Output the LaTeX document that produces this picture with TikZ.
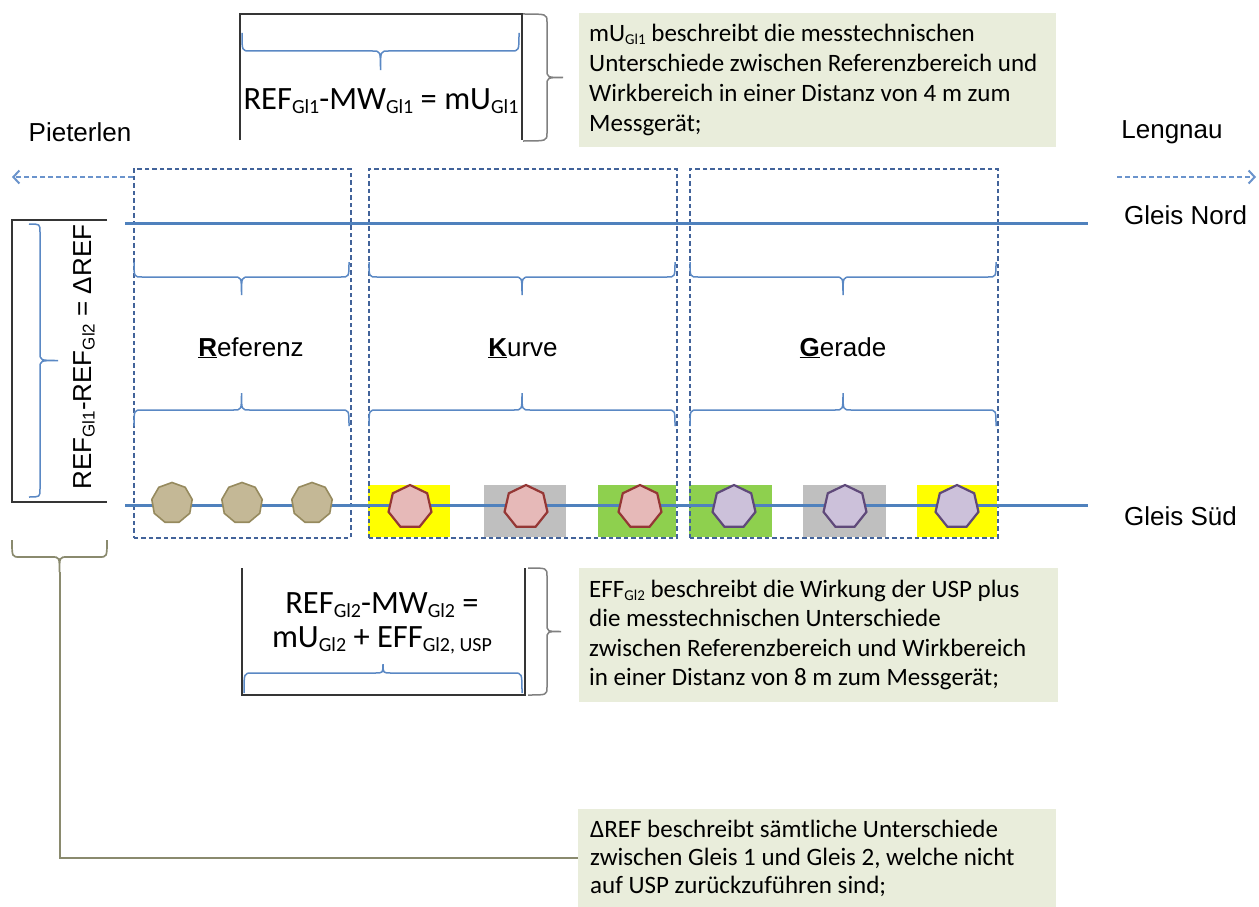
\documentclass[tikz,border=0pt]{standalone}
\usepackage{fontspec}
\setmainfont{Carlito}
\newfontfamily\arialf{Liberation Sans}
\usetikzlibrary{arrows.meta,shapes.geometric}
\definecolor{trackblue}{HTML}{4F81BD}
\definecolor{braceblue}{HTML}{5A88C4}
\definecolor{zoneblue}{HTML}{42639A}
\definecolor{arrowblue}{HTML}{6A93CC}
\definecolor{boxgreen}{HTML}{E9EDDB}
\definecolor{olivegray}{HTML}{8A8A6E}
\definecolor{darkline}{HTML}{353535}
\definecolor{tanfill}{HTML}{C4B896}
\definecolor{tandraw}{HTML}{968A5E}
\definecolor{pinkfill}{HTML}{E6B9B8}
\definecolor{pinkdraw}{HTML}{953735}
\definecolor{lilafill}{HTML}{CCC1DA}
\definecolor{liladraw}{HTML}{5F497A}
\definecolor{sqyellow}{HTML}{FFFF00}
\definecolor{sqgray}{HTML}{BFBFBF}
\definecolor{sqgreen}{HTML}{8ED04E}
% horizontal brace: x1, x2, yend, ybar, ytip, style
\newcommand\HBr[6]{\draw[#6] (#1,#3) .. controls (#1,#4) .. ({#1+8},#4) -- ({(#1+#2)/2-8},#4) .. controls ({(#1+#2)/2},#4) .. ({(#1+#2)/2},#5) .. controls ({(#1+#2)/2},#4) .. ({(#1+#2)/2+8},#4) -- ({#2-8},#4) .. controls (#2,#4) .. (#2,#3);}
% vertical brace: y1, y2, xend, xbar, xtip, style
\newcommand\VBr[6]{\draw[#6] (#3,#1) .. controls (#4,#1) .. (#4,{#1+8}) -- (#4,{(#1+#2)/2-8}) .. controls (#4,{(#1+#2)/2}) .. (#5,{(#1+#2)/2}) .. controls (#4,{(#1+#2)/2}) .. (#4,{(#1+#2)/2+8}) -- (#4,{#2-8}) .. controls (#4,#2) .. (#3,#2);}
\newcommand\sbF[1]{{\fontsize{20}{20}\selectfont\raisebox{-0.2em}{#1}}}
\newcommand\sbT[1]{{\fontsize{15}{15}\selectfont\raisebox{-0.2em}{#1}}}
\newcommand\sbA[1]{{\fontsize{17}{17}\selectfont\raisebox{-0.2em}{#1}}}
\begin{document}
\begin{tikzpicture}[x=1pt,y=-1pt,
  bracebl/.style={draw=braceblue,line width=1.5},
  bracegr/.style={draw=gray,line width=1.5},
  braceol/.style={draw=olivegray,line width=1.7},
  frameline/.style={draw=darkline,line width=1.8},
  zone/.style={draw=zoneblue,dash pattern=on 4.5pt off 3pt,line width=1.5,inner sep=0,anchor=north west},
  darr/.style={draw=arrowblue,dash pattern=on 5pt off 3pt,line width=2,-{Straight Barb[length=6pt,width=13pt,line width=2pt]}},
  track/.style={draw=trackblue,line width=3},
  gbox/.style={fill=boxgreen,inner sep=0,anchor=north west},
  gtext/.style={align=left,inner sep=0,anchor=west},
  ftext/.style={inner sep=0,font=\fontsize{32.5}{34}\selectfont},
  atext/.style={inner sep=0,font=\arialf\fontsize{26}{30}\selectfont},
  tanpoly/.style={regular polygon,regular polygon sides=9,minimum size=41,inner sep=0,fill=tanfill,draw=tandraw,line width=1.6},
  pinkpoly/.style={regular polygon,regular polygon sides=7,minimum size=44,inner sep=0,fill=pinkfill,draw=pinkdraw,line width=2.2},
  lilapoly/.style={regular polygon,regular polygon sides=7,minimum size=44,inner sep=0,fill=lilafill,draw=liladraw,line width=2.2},
]
\fill[white] (0,0) rectangle (1259,907);
\useasboundingbox (0,0) rectangle (1259,907);

% ---- top formula box
\draw[frameline] (240,140) -- (240,14) -- (522,14) -- (522,140);
\HBr{242}{519}{33}{51}{70}{bracebl}
\node[ftext,anchor=base] (f1) at (381,110) {REF\sbF{Gl1}-MW\sbF{Gl1} = mU\sbF{Gl1}};
\VBr{14}{141}{523}{547}{563}{bracegr}
\node[gbox,minimum width=477,minimum height=134] (mubox) at (579,13) {};
\node[gtext,font=\fontsize{25}{30}\selectfont] (mutext) at ([xshift=10]mubox.west) {mU\sbT{Gl1} beschreibt die messtechnischen\\Unterschiede zwischen Referenzbereich und\\Wirkbereich in einer Distanz von 4 m zum\\Messgerät;};

% ---- place names
\node[atext] (pieterlen) at (80,132) {Pieterlen};
\node[atext] (lengnau) at (1172,132) {Lengnau};
\node[atext,anchor=west] (nord) at (1124,215) {Gleis Nord};
\node[atext,anchor=west] (sued) at (1124,516) {Gleis Süd};

% ---- coloured squares
\fill[sqyellow] (368,485) rectangle (450,537);
\fill[sqgray]   (484,485) rectangle (566,537);
\fill[sqgreen]  (598,485) rectangle (676,537);
\fill[sqgreen]  (689,485) rectangle (772,537);
\fill[sqgray]   (803,485) rectangle (886,537);
\fill[sqyellow] (917,485) rectangle (997,537);

% ---- zones
\node[zone,minimum width=217,minimum height=369] (zref) at (133,168) {};
\node[zone,minimum width=308,minimum height=369] (zkur) at (368,168) {};
\node[zone,minimum width=308,minimum height=369] (zger) at (689,168) {};
\coordinate (lend) at (12,177);
\coordinate (rstart) at (1117,177);
\coordinate (rend) at (1256,177);
\draw[darr] (zref.north west |- lend) -- (lend);
\draw[darr] (rstart) -- (rend);

% ---- tracks
\coordinate (n0) at (125,223); \coordinate (n1) at (1088,223);
\coordinate (s0) at (125,505); \coordinate (s1) at (1088,505);
\draw[track] (n0) -- (n1);
\draw[track] (s0) -- (s1);

% ---- zone braces and labels
\HBr{134}{349}{262}{277}{295}{bracebl}
\HBr{369}{675}{262}{277}{295}{bracebl}
\HBr{690}{996}{262}{277}{295}{bracebl}
\HBr{134}{349}{426}{410}{393}{bracebl}
\HBr{369}{675}{426}{410}{393}{bracebl}
\HBr{690}{996}{426}{410}{393}{bracebl}
\node[atext,anchor=base] (lref) at (251,356) {\underline{\textbf{R}}eferenz};
\node[atext,anchor=base] (lkur) at (523,356) {\underline{\textbf{K}}urve};
\node[atext,anchor=base] (lger) at (843,356) {\underline{\textbf{G}}erade};

% ---- measuring points
\node[tanpoly] (t1) at (172,503) {};
\node[tanpoly] (t2) at (242,503) {};
\node[tanpoly] (t3) at (312,503) {};
\node[pinkpoly] (p1) at (410,507) {};
\node[pinkpoly] (p2) at (526,507) {};
\node[pinkpoly] (p3) at (640,507) {};
\node[lilapoly] (v1) at (734,507) {};
\node[lilapoly] (v2) at (845,507) {};
\node[lilapoly] (v3) at (957,507) {};

% ---- delta REF box
\draw[frameline] (107,220) -- (12,220) -- (12,502) -- (107,502);
\VBr{224}{497}{29}{40}{58}{bracebl}
\node[atext,rotate=90] (dreftext) at (84,357) {REF\sbA{Gl1}-REF\sbA{Gl2} = ΔREF};

% ---- bottom formula box
\draw[frameline] (242,568) -- (242,695) -- (525,695) -- (525,568);
\HBr{244}{522}{693}{673}{664}{bracebl}
\node[ftext,anchor=base] (f2a) at (382,613) {REF\sbF{Gl2}-MW\sbF{Gl2} =};
\node[ftext,anchor=base] (f2b) at (382,647) {mU\sbF{Gl2} + EFF\sbF{Gl2, USP}};
\VBr{568}{695}{528}{547}{561}{bracegr}
\node[gbox,minimum width=479,minimum height=134] (effbox) at (579,568) {};
\node[gtext,font=\fontsize{25}{29.5}\selectfont] (efftext) at ([xshift=10]effbox.west) {EFF\sbT{Gl2} beschreibt die Wirkung der USP plus\\die messtechnischen Unterschiede\\zwischen Referenzbereich und Wirkbereich\\in einer Distanz von 8 m zum Messgerät;};

% ---- delta REF explanation
\HBr{12}{107}{540}{557}{572}{braceol}
\coordinate (dtip) at (60,572);
\node[gbox,minimum width=478,minimum height=98] (drefbox) at (578,809) {};
\node[gtext,font=\fontsize{25}{28}\selectfont] (dreftxt) at ([xshift=12]drefbox.west) {ΔREF beschreibt sämtliche Unterschiede\\zwischen Gleis 1 und Gleis 2, welche nicht\\auf USP zurückzuführen sind;};
\draw[braceol,line width=2] (dtip) |- (drefbox.west);
\end{tikzpicture}
\end{document}
